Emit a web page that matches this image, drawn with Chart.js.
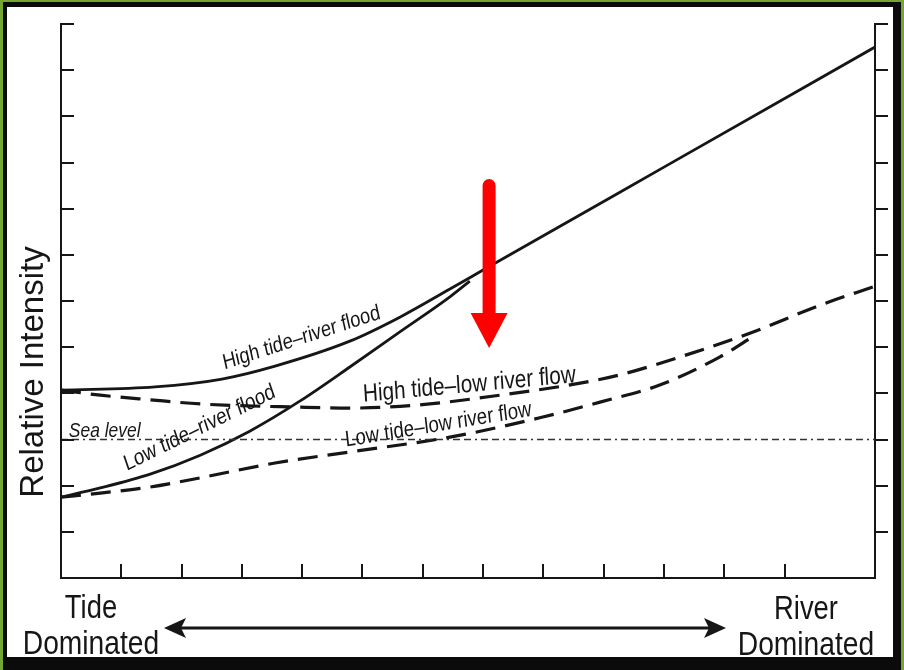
<!DOCTYPE html>
<html>
<head>
<meta charset="utf-8">
<script src="https://cdn.jsdelivr.net/npm/chart.js@4.4.1/dist/chart.umd.min.js"></script>
<style>
  html, body { margin: 0; padding: 0; background: #fff; }
  #wrap { width: 904px; height: 670px; }
</style>
</head>
<body>
<div id="wrap"><canvas id="tideChart" width="904" height="670"></canvas></div>
<script>
// x = position between tide dominated (0) and river dominated (13.5), y = relative intensity
const highFloodX = [0, 1.56, 2.67, 3.55, 4.79, 5.62, 6.45, 7.0, 10.0, 13.5];
const highFloodY = [4.07, 4.14, 4.31, 4.59, 5.13, 5.65, 6.26, 6.67, 8.9, 11.5];

const lowFloodX = [0, 0.65, 1.48, 2.31, 3.13, 3.96, 4.79, 5.62, 6.45, 6.78];
const lowFloodY = [1.75, 1.95, 2.25, 2.66, 3.18, 3.83, 4.57, 5.33, 6.09, 6.43];

const highLowFlowX = [0, 0.65, 1.48, 2.31, 3.96, 4.79, 5.95, 7.28, 8.61, 9.27, 10.27, 11.48, 12.59, 13.5];
const highLowFlowY = [4.07, 3.96, 3.86, 3.77, 3.70, 3.68, 3.75, 3.96, 4.22, 4.40, 4.79, 5.33, 5.91, 6.32];

const lowLowFlowX = [0, 0.65, 1.48, 2.31, 3.55, 4.79, 6.45, 7.94, 8.94, 9.93, 10.93, 11.51];
const lowLowFlowY = [1.75, 1.84, 1.97, 2.17, 2.49, 2.73, 3.05, 3.47, 3.81, 4.18, 4.79, 5.26];

const seaLevel = 3;
const xRange = [0, 13.5];
const yRange = [0, 12];

// red arrow (data units)
const arrowX = 7.1;
const arrowFrom = 8.5;
const arrowHeadAt = 5.74;
const arrowTo = 4.98;

const curveLabels = [
  { text: 'High tide\u2013river flood', x: 4.01, y: 5.07, angle: -18, size: 22 },
  { text: 'Low tide\u2013river flood', x: 2.33, y: 3.12, angle: -26.4, size: 22.5 },
  { text: 'High tide\u2013low river flow', x: 6.78, y: 4.03, angle: -5.3, size: 25 },
  { text: 'Low tide\u2013low river flow', x: 6.27, y: 3.18, angle: -9.4, size: 22.5 }
];

const SQUISH = 0.83;
const INK = '#161616';
const FONT = '"Liberation Sans", Arial, Helvetica, sans-serif';

function zip(xs, ys) {
  return xs.map((x, i) => ({ x: x, y: ys[i] }));
}

function squishedText(c, text, px, py, deg, size, style, align) {
  c.save();
  c.translate(px, py);
  c.scale(SQUISH, 1);
  c.rotate(Math.atan(SQUISH * Math.tan(deg * Math.PI / 180)));
  c.font = (style || '') + ' ' + size + 'px ' + FONT;
  c.textAlign = align || 'center';
  c.textBaseline = 'alphabetic';
  c.fillText(text, 0, 0);
  c.restore();
}

function arrowHead(c, tipX, y, dir) {
  const L = 22, W = 10, N = 5;
  c.beginPath();
  c.moveTo(tipX, y);
  c.lineTo(tipX - dir * L, y - W);
  c.lineTo(tipX - dir * (L - N), y);
  c.lineTo(tipX - dir * L, y + W);
  c.closePath();
  c.fill();
}

const frame = {
  id: 'frame',
  beforeDraw(chart) {
    const c = chart.ctx;
    c.save();
    c.fillStyle = '#76a530';
    c.fillRect(0, 0, chart.width, chart.height);
    c.fillStyle = '#0b0b0b';
    c.fillRect(3, 2, chart.width - 6, chart.height - 2);
    c.fillStyle = '#ffffff';
    c.fillRect(7, 7, 886, 650);
    c.restore();
  }
};

const extras = {
  id: 'extras',
  afterDraw(chart) {
    const c = chart.ctx;
    const xs = chart.scales.x, ys = chart.scales.y, a = chart.chartArea;
    c.save();

    // inward ticks on left and bottom axes
    c.strokeStyle = INK;
    c.lineWidth = 2;
    c.beginPath();
    xs.ticks.forEach(t => {
      if (t.value > xs.min && t.value < xs.max) {
        const p = Math.round(xs.getPixelForValue(t.value));
        c.moveTo(p, a.bottom);
        c.lineTo(p, a.bottom - 14);
      }
    });
    ys.ticks.forEach(t => {
      if (t.value > ys.min) {
        const p = Math.round(ys.getPixelForValue(t.value));
        c.moveTo(a.left, p);
        c.lineTo(a.left + 13, p);
      }
    });
    c.stroke();

    // curve labels
    c.fillStyle = INK;
    curveLabels.forEach(l => {
      squishedText(c, l.text, xs.getPixelForValue(l.x), ys.getPixelForValue(l.y), l.angle, l.size);
    });
    squishedText(c, 'Sea level', xs.getPixelForValue(0.13), ys.getPixelForValue(seaLevel) - 3, 0, 21, 'italic', 'left');

    // y axis title
    c.save();
    c.translate(43, 372);
    c.rotate(-Math.PI / 2);
    c.font = '33px ' + FONT;
    c.textAlign = 'center';
    c.textBaseline = 'alphabetic';
    c.fillText('Relative Intensity', 0, 0);
    c.restore();

    // bottom labels and double arrow
    squishedText(c, 'Tide', 91, 618, 0, 33);
    squishedText(c, 'Dominated', 91, 654, 0, 34);
    squishedText(c, 'River', 806, 619, 0, 33);
    squishedText(c, 'Dominated', 806, 655, 0, 34);

    c.fillStyle = INK;
    c.strokeStyle = INK;
    c.lineWidth = 3;
    c.beginPath();
    c.moveTo(178, 628);
    c.lineTo(712, 628);
    c.stroke();
    arrowHead(c, 164, 628, -1);
    arrowHead(c, 726, 628, 1);

    // red arrow
    const ax = xs.getPixelForValue(arrowX);
    const top = ys.getPixelForValue(arrowFrom);
    const base = ys.getPixelForValue(arrowHeadAt);
    const tip = ys.getPixelForValue(arrowTo);
    c.strokeStyle = '#ff0000';
    c.fillStyle = '#ff0000';
    c.lineWidth = 13;
    c.lineCap = 'round';
    c.beginPath();
    c.moveTo(ax, top);
    c.lineTo(ax, base + 2);
    c.stroke();
    c.beginPath();
    c.moveTo(ax - 18.5, base);
    c.lineTo(ax + 18.5, base);
    c.lineTo(ax, tip);
    c.closePath();
    c.fill();

    c.restore();
  }
};

const solid = { borderColor: INK, borderWidth: 2.8, pointRadius: 0, pointHoverRadius: 0, cubicInterpolationMode: 'monotone', fill: false };
const dashed = Object.assign({}, solid, { borderWidth: 3.2, borderDash: [20, 10] });

new Chart(document.getElementById('tideChart'), {
  type: 'line',
  data: {
    datasets: [
      Object.assign({ label: 'Sea level', data: [{ x: xRange[0], y: seaLevel }, { x: xRange[1], y: seaLevel }] },
        { borderColor: '#333', borderWidth: 1.3, borderDash: [7, 4, 7, 4, 2, 4], pointRadius: 0, pointHoverRadius: 0 }),
      Object.assign({ label: 'High tide-river flood', data: zip(highFloodX, highFloodY) }, solid),
      Object.assign({ label: 'Low tide-river flood', data: zip(lowFloodX, lowFloodY) }, solid),
      Object.assign({ label: 'High tide-low river flow', data: zip(highLowFlowX, highLowFlowY) }, dashed),
      Object.assign({ label: 'Low tide-low river flow', data: zip(lowLowFlowX, lowLowFlowY) }, dashed)
    ]
  },
  options: {
    responsive: false,
    animation: false,
    devicePixelRatio: 1,
    events: [],
    layout: {
      padding: { left: 61, top: 24, right: 16, bottom: 92 }
    },
    scales: {
      x: {
        type: 'linear',
        min: xRange[0],
        max: xRange[1],
        ticks: { display: false, stepSize: 1 },
        grid: { display: false, drawTicks: false },
        border: { display: true, color: INK, width: 2 }
      },
      y: {
        min: yRange[0],
        max: yRange[1],
        ticks: { display: false, stepSize: 1 },
        grid: { display: false, drawTicks: false },
        border: { display: true, color: INK, width: 2 }
      },
      y2: {
        position: 'right',
        min: yRange[0],
        max: yRange[1],
        ticks: { display: false, stepSize: 1 },
        grid: {
          drawOnChartArea: false,
          drawTicks: true,
          tickLength: 13,
          lineWidth: 2,
          color: ctx => (ctx.tick && ctx.tick.value === 0) ? 'rgba(0,0,0,0)' : INK
        },
        border: { display: true, color: INK, width: 2 }
      }
    },
    plugins: {
      legend: { display: false },
      tooltip: { enabled: false }
    }
  },
  plugins: [frame, extras]
});
</script>
</body>
</html>
